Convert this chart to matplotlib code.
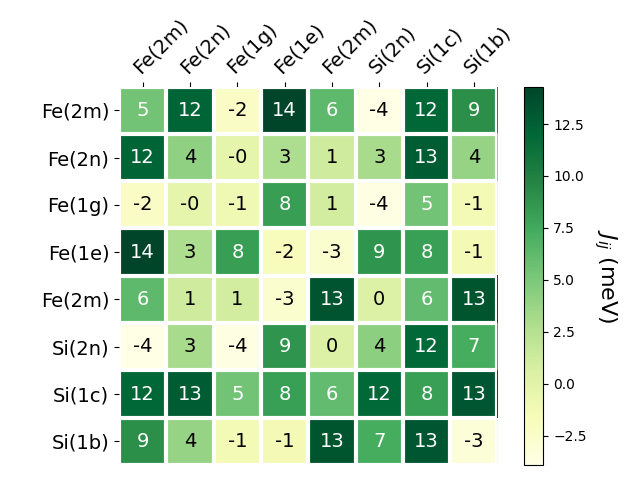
import numpy as np
import matplotlib
matplotlib.use("Agg")
import matplotlib.pyplot as plt

sites = ["Fe(2m)", "Fe(2n)", "Fe(1g)", "Fe(1e)", "Fe(2m)", "Si(2n)", "Si(1c)", "Si(1b)"]

# exchange couplings J_ij (meV), symmetric
row_fe2m = [5.4, 12.1, -2.2, 14.3, 6.2, -3.9, 12.0, 9.1]
row_fe2n = [12.1, 4.2, -0.3, 2.9, 1.2, 3.1, 12.8, 3.9]
row_fe1g = [-2.2, -0.3, -1.1, 8.2, 1.0, -3.7, 5.4, -1.2]
row_fe1e = [14.3, 2.9, 8.2, -1.8, -2.7, 8.8, 8.1, -1.4]
row_fe2m_b = [6.2, 1.2, 1.0, -2.7, 13.3, 0.3, 6.1, 13.2]
row_si2n = [-3.9, 3.1, -3.7, 8.8, 0.3, 4.3, 11.9, 7.2]
row_si1c = [12.0, 12.8, 5.4, 8.1, 6.1, 11.9, 8.1, 13.1]
row_si1b = [9.1, 3.9, -1.2, -1.4, 13.2, 7.2, 13.1, -3.2]

J = np.array([row_fe2m, row_fe2n, row_fe1g, row_fe1e,
              row_fe2m_b, row_si2n, row_si1c, row_si1b])

fig, ax = plt.subplots(figsize=(6.4, 4.8), dpi=100)

im = ax.imshow(J, cmap="YlGn")
cbar = ax.figure.colorbar(im, ax=ax)
cbar.ax.set_ylabel("$J_{ij}$ (meV)", rotation=-90, va="bottom", fontsize=16)

n = len(sites)
ax.set_xticks(np.arange(n), labels=sites, fontsize=14)
ax.set_yticks(np.arange(n), labels=sites, fontsize=14)
ax.tick_params(top=True, bottom=False, labeltop=True, labelbottom=False)
plt.setp(ax.get_xticklabels(), rotation=45, ha="left", rotation_mode="anchor")

for s in ax.spines.values():
    s.set_visible(False)
ax.set_xticks(np.arange(n + 1) - .5, minor=True)
ax.set_yticks(np.arange(n + 1) - .5, minor=True)
ax.grid(which="minor", color="w", linestyle="-", linewidth=3)
ax.tick_params(which="minor", top=False, bottom=False, left=False)

threshold = im.norm(J.max()) / 2.
for i in range(n):
    for j in range(n):
        color = "white" if im.norm(J[i, j]) > threshold else "black"
        ax.text(j, i, f"{J[i, j]:.0f}", ha="center", va="center",
                color=color, fontsize=14)

fig.tight_layout()
fig.savefig("out.png", dpi=100)
